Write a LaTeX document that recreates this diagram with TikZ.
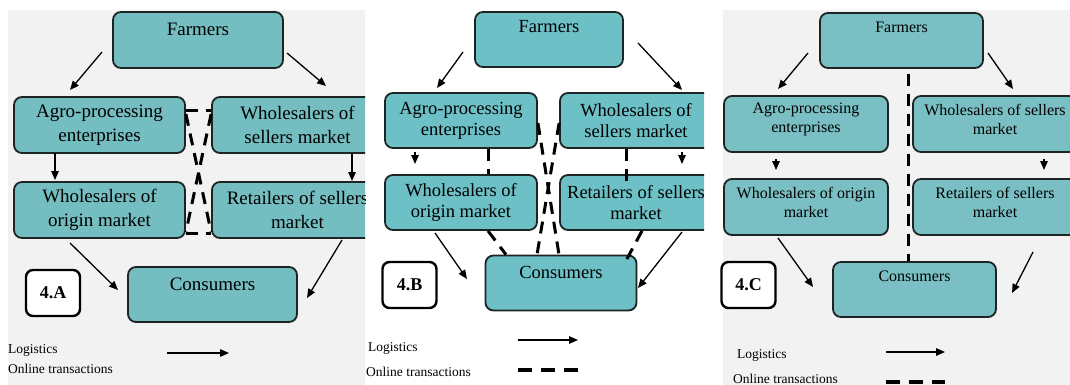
\documentclass[tikz,border=0pt]{standalone}
\usepackage{fontspec}
\setmainfont{Liberation Serif}
\usetikzlibrary{arrows.meta}
\definecolor{bgA}{HTML}{F2F2F2}
\definecolor{tealA}{RGB}{116,189,192}
\definecolor{tealB}{RGB}{108,192,198}
\definecolor{tealC}{RGB}{121,191,195}
\definecolor{edgecol}{HTML}{1C2424}
\tikzset{
  boxbase/.style={draw=edgecol, line width=1.8pt, rounded corners=8pt, inner sep=0pt, align=center},
  boxA/.style={boxbase, fill=tealA, font=\fontsize{19}{24}\selectfont},
  boxB/.style={boxbase, fill=tealB, font=\fontsize{18.5}{21}\selectfont},
  boxC/.style={boxbase, fill=tealC},
  txtA/.style={inner sep=0pt, align=center, font=\fontsize{19}{24}\selectfont},
  txtB/.style={inner sep=0pt, align=center, font=\fontsize{18.5}{21}\selectfont},
  txtC/.style={inner sep=0pt, align=center, font=\fontsize{16}{19}\selectfont},
  arr/.style={line width=1.3pt, -{Triangle[length=9pt,width=7.5pt]}},
  online/.style={line width=3pt, dash pattern=on 12pt off 8pt},
  legdash/.style={line width=4pt, dash pattern=on 14pt off 9pt},
  tag/.style={draw=black, line width=2.4pt, rounded corners=7pt, fill=white, inner sep=0pt,
    minimum width=54pt, minimum height=46pt, font=\fontsize{18}{20}\selectfont\bfseries},
  legend/.style={inner sep=0pt, anchor=west, font=\fontsize{13.5}{15}\selectfont},
}
\begin{document}
\begin{tikzpicture}[x=1pt, y=-1pt]
\useasboundingbox (0,0) rectangle (1070,385);
\fill[white] (0,0) rectangle (1070,385);

% ================= Panel A =================
\begin{scope}
\clip (0,0) rectangle (365,385);
\fill[bgA] (8,10) rectangle (365,385);
\node[boxA, minimum width=170pt, minimum height=56pt] (farmA) at (198,40) {};
\node[txtA] (farmAt) at (198,29) {Farmers};
\node[boxA, minimum width=171pt, minimum height=56pt] (agroA) at (99.5,125) {Agro-processing\\enterprises};
\node[boxA, minimum width=171pt, minimum height=56pt] (wsA) at (297.5,125) {Wholesalers of\\sellers market};
\node[boxA, minimum width=171pt, minimum height=56pt] (woA) at (99.5,210) {Wholesalers of\\origin market};
\node[boxA, minimum width=171pt, minimum height=56pt] (reA) at (297.5,210) {Retailers of sellers\\market};
\node[boxA, minimum width=169pt, minimum height=55pt] (conA) at (212.5,294.5) {};
\node[txtA] (conAt) at (212.5,284) {Consumers};
\node[tag] (tagA) at (53,293) {4.A};
% logistics arrows
\coordinate (a1s) at (102,52);  \coordinate (a1e) at (70,90);
\coordinate (a2s) at (287,53);  \coordinate (a2e) at (326,86);
\coordinate (a3s) at (55,153);  \coordinate (a3e) at (55,180);
\coordinate (a4s) at (352,153); \coordinate (a4e) at (352,181);
\coordinate (a5s) at (70,243);  \coordinate (a5e) at (118,290);
\coordinate (a6s) at (342,240); \coordinate (a6e) at (307,298);
\draw[arr] (a1s) -- (a1e);
\draw[arr] (a2s) -- (a2e);
\draw[arr] (a3s) -- (a3e);
\draw[arr] (a4s) -- (a4e);
\draw[arr] (a5s) -- (a5e);
\draw[arr] (a6s) -- (a6e);
% online transactions
\draw[online] ([yshift=14pt]agroA.east) -- ([yshift=14pt]wsA.west);
\draw[online] ([yshift=-23pt]woA.east) -- ([yshift=-23pt]reA.west);
\draw[online] ([yshift=11pt]agroA.east) -- ([yshift=-22pt]reA.west);
\draw[online] ([yshift=11pt]wsA.west) -- ([yshift=-22pt]woA.east);
% legend
\node[legend] (logA) at (8,350) {Logistics};
\node[legend] (onlA) at (8,369) {Online transactions};
\coordinate (lgA1) at (167,353); \coordinate (lgA2) at (229,353);
\draw[arr] (lgA1) -- (lgA2);
\coordinate (ldA1) at (167,387); \coordinate (ldA2) at (229,387);
\draw[legdash, gray!80] (ldA1) -- (ldA2);
\end{scope}

% ================= Panel B =================
\begin{scope}
\clip (365,0) rectangle (704,385);
\node[boxB, minimum width=148pt, minimum height=55pt] (farmB) at (549,39.5) {};
\node[txtB] (farmBt) at (549,27) {Farmers};
\node[boxB, minimum width=152pt, minimum height=55pt] (agroB) at (461,120.5) {Agro-processing\\enterprises};
\node[boxB, minimum width=152pt, minimum height=55pt] (wsB) at (636,120.5) {Wholesalers of\\sellers market};
\node[boxB, minimum width=152pt, minimum height=55pt] (woB) at (461,202.5) {Wholesalers of\\origin market};
\node[boxB, minimum width=152pt, minimum height=55pt] (reB) at (636,202.5) {Retailers of sellers\\market};
\node[boxB, minimum width=151pt, minimum height=55pt] (conB) at (561,283) {};
\node[txtB] (conBt) at (561,272) {Consumers};
\node[tag] (tagB) at (409.5,285) {4.B};
\draw[online] ([xshift=27pt]agroB.south) -- ([xshift=27pt]woB.north);
\coordinate (b1s) at (463,52);  \coordinate (b1e) at (437,88);
\coordinate (b2s) at (638,43);  \coordinate (b2e) at (682,90);
\coordinate (b3s) at (415,152); \coordinate (b3e) at (415,164);
\coordinate (b4s) at (682,152); \coordinate (b4e) at (682,164);
\coordinate (b5s) at (435,233); \coordinate (b5e) at (467,279);
\coordinate (b6s) at (682,232); \coordinate (b6e) at (638,288);
\draw[arr] (b1s) -- (b1e);
\draw[arr] (b2s) -- (b2e);
\draw[arr] (b3s) -- (b3e);
\draw[arr] (b4s) -- (b4e);
\draw[arr] (b5s) -- (b5e);
\draw[arr] (b6s) -- (b6e);
\draw[online] ([xshift=27pt]woB.south) -- ([xshift=-55pt]conB.north);
\draw[online] ([xshift=-10pt]wsB.south) -- ([xshift=-10pt,yshift=-7pt]reB.north);
\draw[online] ([xshift=6pt]reB.south) -- ([xshift=65pt,yshift=-6pt]conB.north);
\draw[online] ([yshift=-2.5pt]agroB.east) -- ([xshift=-2pt]conB.north);
\draw[online] ([yshift=-2.5pt]wsB.west) -- ([xshift=-24pt]conB.north);
\node[legend] (logB) at (368,348) {Logistics};
\node[legend] (onlB) at (366,372) {Online transactions};
\coordinate (lgB1) at (518,340); \coordinate (lgB2) at (578,340);
\draw[arr] (lgB1) -- (lgB2);
\coordinate (ldB1) at (518,370); \coordinate (ldB2) at (578,370);
\draw[legdash] (ldB1) -- (ldB2);
\end{scope}

% ================= Panel C =================
\begin{scope}
\clip (720,0) rectangle (1070,385);
\fill[bgA] (723,10) rectangle (1070,385);
\node[boxC, minimum width=163pt, minimum height=55pt] (farmC) at (901.5,40.5) {};
\node[txtC] (farmCt) at (901.5,27) {Farmers};
\node[boxC, minimum width=164pt, minimum height=56pt] (agroC) at (806,124) {};
\node[txtC] (agroCt) at (806,119.5) {Agro-processing\\enterprises};
\node[boxC, minimum width=164pt, minimum height=56pt] (wsC) at (995,124) {};
\node[txtC] (wsCt) at (995,119.5) {Wholesalers of sellers\\market};
\node[boxC, minimum width=164pt, minimum height=56pt] (woC) at (806,207) {};
\node[txtC] (woCt) at (806,202.5) {Wholesalers of origin\\market};
\node[boxC, minimum width=164pt, minimum height=56pt] (reC) at (995,207) {};
\node[txtC] (reCt) at (995,202.5) {Retailers of sellers\\market};
\node[boxC, minimum width=163pt, minimum height=55pt] (conC) at (914.5,289.5) {};
\node[txtC] (conCt) at (914.5,276) {Consumers};
\node[tag] (tagC) at (748.5,285) {4.C};
\coordinate (c1s) at (808,53);   \coordinate (c1e) at (778,89);
\coordinate (c2s) at (988,53);   \coordinate (c2e) at (1013,89);
\coordinate (c3s) at (776,159);  \coordinate (c3e) at (776,170);
\coordinate (c4s) at (1044,159); \coordinate (c4e) at (1044,170);
\coordinate (c5s) at (778,238);  \coordinate (c5e) at (813,287);
\coordinate (c6s) at (1033,252); \coordinate (c6e) at (1012,293);
\draw[arr] (c1s) -- (c1e);
\draw[arr] (c2s) -- (c2e);
\draw[arr] (c3s) -- (c3e);
\draw[arr] (c4s) -- (c4e);
\draw[arr] (c5s) -- (c5e);
\draw[arr] (c6s) -- (c6e);
\draw[online] ([xshift=6.5pt,yshift=-5pt]farmC.south) -- ([xshift=-6.5pt]conC.north);
\node[legend] (logC) at (737,355) {Logistics};
\node[legend] (onlC) at (733,379) {Online transactions};
\coordinate (lgC1) at (886,352); \coordinate (lgC2) at (945,352);
\draw[arr] (lgC1) -- (lgC2);
\coordinate (ldC1) at (886,382); \coordinate (ldC2) at (945,382);
\draw[legdash] (ldC1) -- (ldC2);
\end{scope}
\end{tikzpicture}
\end{document}
